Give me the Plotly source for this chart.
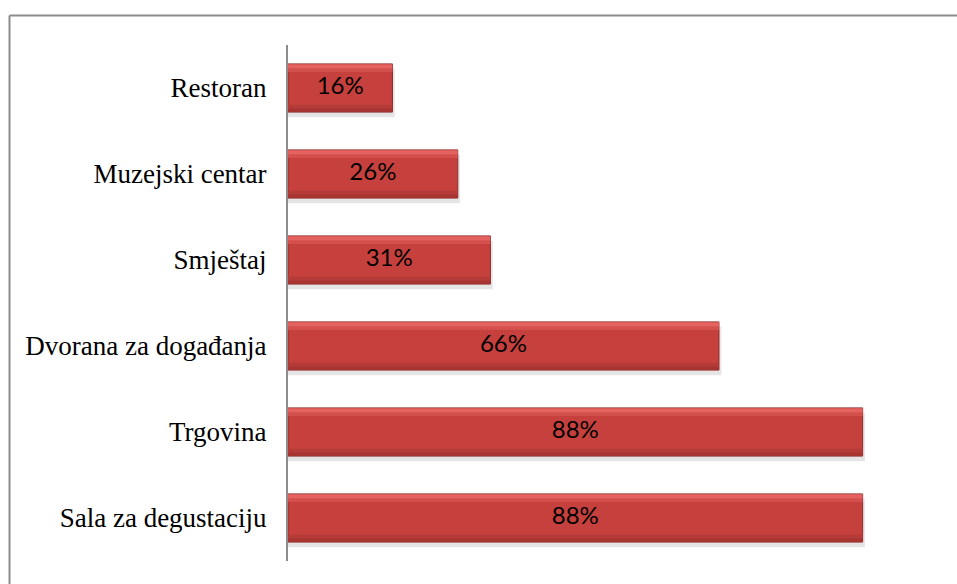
import plotly.graph_objects as go

categories = ["Sala za degustaciju", "Trgovina", "Dvorana za događanja", "Smještaj", "Muzejski centar", "Restoran"]
values = [88, 88, 66, 31, 26, 16]
labels = ["88%", "88%", "66%", "31%", "26%", "16%"]

L, R, T, B = 288, 16, 45, 23
W, H = 957, 584
pw, ph = W - L - R, H - T - B

fig = go.Figure()
# soft shadow
fig.add_trace(go.Bar(y=categories, x=[v + 0.35 for v in values], orientation="h",
                     offset=-0.34, width=0.56, marker=dict(color="rgba(0,0,0,0.10)", line=dict(width=0)),
                     hoverinfo="skip", showlegend=False))
# main bar
fig.add_trace(go.Bar(y=categories, x=values, orientation="h",
                     offset=-0.28, width=0.56,
                     marker=dict(color="#C6403D", line=dict(color="#8E2C2A", width=1)),
                     showlegend=False))
# top highlight
fig.add_trace(go.Bar(y=categories, x=values, orientation="h",
                     offset=0.225, width=0.05,
                     marker=dict(color="#E4625F", line=dict(width=0)),
                     hoverinfo="skip", showlegend=False))
fig.add_trace(go.Bar(y=categories, x=values, orientation="h",
                     offset=0.185, width=0.04,
                     marker=dict(color="#D4504D", line=dict(width=0)),
                     hoverinfo="skip", showlegend=False))
# bottom shade
fig.add_trace(go.Bar(y=categories, x=values, orientation="h",
                     offset=-0.275, width=0.04,
                     marker=dict(color="#A63532", line=dict(width=0)),
                     hoverinfo="skip", showlegend=False))
fig.add_trace(go.Bar(y=categories, x=values, orientation="h",
                     offset=-0.235, width=0.04,
                     marker=dict(color="#B53B38", line=dict(width=0)),
                     hoverinfo="skip", showlegend=False))
# labels
fig.add_trace(go.Scatter(y=categories, x=[v / 2 for v in values], mode="text", text=labels,
                         textposition="middle center",
                         textfont=dict(family="Lato, Open Sans, sans-serif", size=24, color="#000000"),
                         hoverinfo="skip", showlegend=False))

def px2x(p):
    return (p - L) / pw

def py2y(p):
    return 1 - (p - T) / ph

fig.update_layout(
    width=W, height=H,
    margin=dict(l=L, r=R, t=T, b=B),
    paper_bgcolor="white", plot_bgcolor="white",
    barmode="overlay",
    xaxis=dict(range=[0, 100], visible=False, fixedrange=True),
    yaxis=dict(categoryorder="array", categoryarray=categories,
               showline=True, linecolor="#8C8C8C", linewidth=2,
               showgrid=False, zeroline=False, ticks="",
               ticklabelstandoff=14, fixedrange=True,
               tickfont=dict(family="Liberation Serif, Times New Roman, serif", size=27, color="#000000")),
    shapes=[
        dict(type="line", xref="paper", yref="paper", x0=px2x(9.5), x1=px2x(960), y0=py2y(15.5), y1=py2y(15.5),
             line=dict(color="#8C8C8C", width=2)),
        dict(type="line", xref="paper", yref="paper", x0=px2x(9.5), x1=px2x(9.5), y0=py2y(15.5), y1=py2y(590),
             line=dict(color="#8C8C8C", width=2)),
    ],
)

fig.write_html("out.html", config={"displayModeBar": False})
with open("out.html", "r", encoding="utf-8") as f:
    html = f.read()
html = html.replace("<body>", "<body style=\"margin:0;padding:0;overflow:hidden\">", 1)
with open("out.html", "w", encoding="utf-8") as f:
    f.write(html)
